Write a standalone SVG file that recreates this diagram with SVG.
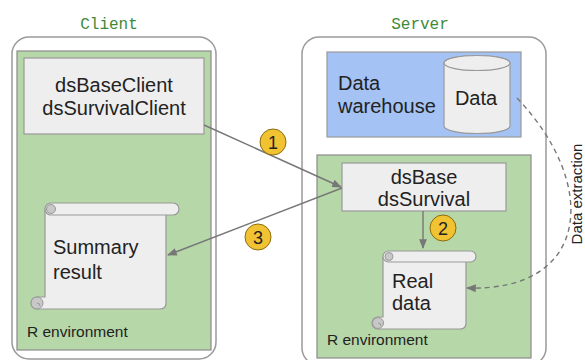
<svg xmlns="http://www.w3.org/2000/svg" width="585" height="360" viewBox="0 0 585 360">
<defs>
<style>
.title{font-family:"Liberation Mono","DejaVu Sans Mono",monospace;font-size:16px;fill:#3f8a3a}
.t{font-family:"Liberation Sans",Arial,sans-serif;fill:#222}
.big{font-size:20px}
.small{font-size:15.5px}
.outer{fill:#fff;stroke:#9a9a9a;stroke-width:1.5}
.env{fill:#b6d7a8;stroke:#8a8a8a;stroke-width:1.2}
.box{fill:#eeeeee;stroke:#999;stroke-width:1.2}
.curl{fill:#c8c8c8;stroke:#999;stroke-width:1}
.badge{fill:#f1c232;stroke:#8a6d10;stroke-width:1}
.num{font-family:"Liberation Sans",Arial,sans-serif;font-size:18px;fill:#222;text-anchor:middle}
.conn{fill:none;stroke:#777;stroke-width:1.4}
.dash{fill:none;stroke:#777;stroke-width:1.4;stroke-dasharray:5 4}
</style>
<marker id="arr" viewBox="0 0 10 10" refX="9" refY="5" markerWidth="7" markerHeight="7" orient="auto">
<path d="M0,1 L10,5 L0,9 Z" fill="#777"/>
</marker>
</defs>
<rect width="585" height="360" fill="#fff"/>

<g id="client">
<text class="title" x="109" y="29" text-anchor="middle">Client</text>
<rect class="outer" x="12" y="37" width="204" height="322" rx="17"/>
<rect class="env" x="17" y="51" width="194" height="299"/>
<text class="t small" x="27" y="337">R environment</text>
</g>

<g id="client-lib">
<rect class="box" x="24" y="58" width="180" height="76"/>
<text class="t big" x="114" y="92" text-anchor="middle">dsBaseClient</text>
<text class="t big" x="114" y="115" text-anchor="middle">dsSurvivalClient</text>
</g>

<g id="summary-result">
<path class="box" d="M45,209 L166,209 L166,303 Q166,309 160,309 L37,309 A6,6 0 0 1 37,297 L45,297 Z"/>
<circle class="curl" cx="37" cy="303" r="6"/>
<path d="M37,303 A3,3 0 0 1 40,306" fill="none" stroke="#999"/>
<rect class="box" x="45" y="203" width="134" height="12" rx="6"/>
<circle class="curl" cx="51" cy="209" r="4.5"/>
<text class="t big" x="53" y="254">Summary</text>
<text class="t big" x="53" y="279">result</text>
</g>

<g id="server">
<text class="title" x="420" y="29" text-anchor="middle">Server</text>
<rect class="outer" x="302" y="37" width="244" height="328" rx="17"/>
<rect class="env" x="317" y="155" width="214" height="203"/>
<text class="t small" x="327" y="345">R environment</text>
</g>

<g id="data-warehouse">
<rect x="327" y="52" width="194" height="85" fill="#a4c2f4" stroke="#999" stroke-width="1.2"/>
<text class="t big" x="338" y="90">Data</text>
<text class="t big" x="338" y="113">warehouse</text>
</g>

<g id="data">
<path class="box" d="M444,63 V126 A33,7.5 0 0 0 510,126 V63 A33,7.5 0 0 0 444,63 Z"/>
<ellipse class="box" cx="477" cy="63" rx="33" ry="7.5"/>
<text class="t big" x="476" y="105" text-anchor="middle">Data</text>
</g>

<g id="server-lib">
<rect class="box" x="342" y="163" width="164" height="48"/>
<text class="t big" x="424" y="184" text-anchor="middle">dsBase</text>
<text class="t big" x="424" y="206" text-anchor="middle">dsSurvival</text>
</g>

<g id="real-data">
<path class="box" d="M383,257 L466,257 L466,323 Q466,329 460,329 L378,329 A6,6 0 0 1 378,317 L383,317 Z"/>
<circle class="curl" cx="378" cy="323" r="5.5"/>
<path d="M378,323 A3,3 0 0 1 381,326" fill="none" stroke="#999"/>
<rect class="box" x="383" y="251" width="93" height="11" rx="5.5"/>
<circle class="curl" cx="389" cy="256.5" r="4"/>
<text class="t big" x="392" y="288">Real</text>
<text class="t big" x="392" y="310">data</text>
</g>

<g id="connectors">
<line class="conn" x1="204" y1="125" x2="341" y2="187" marker-end="url(#arr)"/>
<line class="conn" x1="342" y1="188" x2="168" y2="255" marker-end="url(#arr)"/>
<line class="conn" x1="423" y1="211" x2="423" y2="248" marker-end="url(#arr)"/>
<path class="dash" d="M517,98 C600,185 590,292 467,288" marker-end="url(#arr)"/>
<text class="t" font-size="15" transform="translate(582,194) rotate(-90)" text-anchor="middle">Data extraction</text>
</g>

<g id="badges">
<circle class="badge" cx="273" cy="142" r="13"/>
<text class="num" x="273" y="148.5">1</text>
<circle class="badge" cx="443" cy="228" r="13"/>
<text class="num" x="443" y="234.5">2</text>
<circle class="badge" cx="258" cy="237" r="13"/>
<text class="num" x="258" y="243.5">3</text>
</g>
</svg>
